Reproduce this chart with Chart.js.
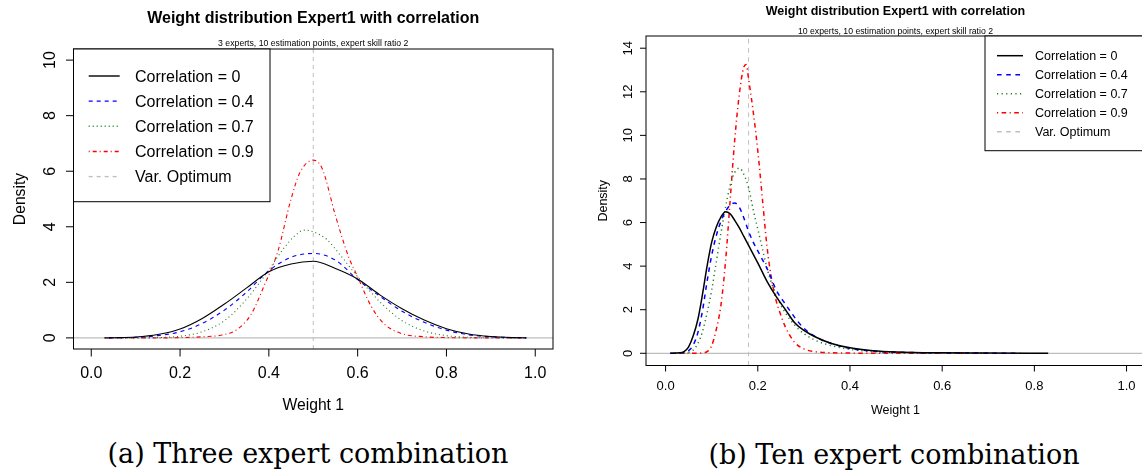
<!DOCTYPE html>
<html>
<head>
<meta charset="utf-8">
<script src="https://cdn.jsdelivr.net/npm/chart.js@4.4.1/dist/chart.umd.min.js"></script>
<style>
html, body { margin: 0; padding: 0; background: #fff; overflow: hidden; width: 1142px; height: 474px; }
canvas { position: absolute; top: 0; }
.cap { position: absolute; font-family: "DejaVu Serif", serif; font-size: 27px; line-height: 27px;
       white-space: nowrap; transform: translateX(-50%); color: #000; }
</style>
</head>
<body>
<canvas id="c3" width="580" height="430" style="left:0"></canvas>
<canvas id="c10" width="575" height="430" style="left:580px"></canvas>
<div class="cap" style="left:308px; top:440px">(a) Three expert combination</div>
<div class="cap" style="left:894px; top:441px">(b) Ten expert combination</div>
<script>
// weight 1 grid and density values

// (a) 3 experts
const w3_c0 = [0.03, 0.05, 0.1, 0.15, 0.2, 0.25, 0.3, 0.35, 0.4, 0.45, 0.5, 0.55, 0.6, 0.65, 0.7, 0.75, 0.8, 0.85, 0.9, 0.95, 0.98];
const d3_c0 = [0, 0.005, 0.03, 0.12, 0.32, 0.7, 1.22, 1.8, 2.38, 2.66, 2.76, 2.5, 2.12, 1.55, 1.05, 0.64, 0.33, 0.14, 0.05, 0.01, 0];
const w3_c4 = [0.04, 0.1, 0.15, 0.2, 0.25, 0.3, 0.35, 0.4, 0.45, 0.5, 0.55, 0.6, 0.65, 0.7, 0.75, 0.8, 0.85, 0.9, 0.95, 0.98];
const d3_c4 = [0, 0.02, 0.08, 0.22, 0.52, 1.0, 1.65, 2.42, 2.9, 3.04, 2.8, 2.1, 1.5, 0.96, 0.56, 0.28, 0.11, 0.04, 0.01, 0];
const w3_c7 = [0.04, 0.15, 0.2, 0.25, 0.3, 0.35, 0.4, 0.43, 0.46, 0.48, 0.5, 0.53, 0.56, 0.6, 0.65, 0.7, 0.75, 0.8, 0.85, 0.9, 0.98];
const d3_c7 = [0, 0.01, 0.06, 0.22, 0.62, 1.4, 2.45, 3.15, 3.7, 3.88, 3.82, 3.55, 3.0, 2.2, 1.3, 0.62, 0.25, 0.08, 0.02, 0.005, 0];
const w3_c9 = [0.03, 0.15, 0.2, 0.25, 0.3, 0.33, 0.36, 0.39, 0.42, 0.45, 0.47, 0.5, 0.52, 0.55, 0.58, 0.6, 0.63, 0.66, 0.7, 0.75, 0.8, 0.9, 0.98];
const d3_c9 = [0, 0, 0.01, 0.04, 0.12, 0.32, 0.85, 1.9, 3.1, 5.0, 5.95, 6.4, 6.1, 4.4, 2.9, 2.2, 1.15, 0.5, 0.15, 0.04, 0.01, 0, 0];

// (b) 10 experts
const w10_c0 = [0.01, 0.03, 0.04, 0.05, 0.06, 0.07, 0.08, 0.09, 0.1, 0.11, 0.12, 0.13, 0.14, 0.15, 0.16, 0.17, 0.18, 0.19, 0.2, 0.22, 0.24, 0.26, 0.28, 0.3, 0.33, 0.36, 0.4, 0.45, 0.5, 0.6, 0.7, 0.83];
const d10_c0 = [0, 0.02, 0.08, 0.3, 0.8, 1.55, 2.7, 4.0, 5.1, 5.8, 6.25, 6.5, 6.4, 6.1, 5.75, 5.35, 4.95, 4.55, 4.15, 3.3, 2.6, 2.0, 1.4, 1.05, 0.7, 0.45, 0.25, 0.12, 0.06, 0.02, 0.01, 0];
const w10_c4 = [0.01, 0.04, 0.05, 0.06, 0.07, 0.08, 0.09, 0.1, 0.11, 0.12, 0.13, 0.14, 0.15, 0.16, 0.17, 0.18, 0.19, 0.2, 0.21, 0.22, 0.24, 0.26, 0.28, 0.3, 0.33, 0.36, 0.4, 0.45, 0.5, 0.6, 0.77];
const d10_c4 = [0, 0.04, 0.12, 0.38, 0.95, 1.95, 3.3, 4.5, 5.4, 6.05, 6.5, 6.8, 6.9, 6.7, 6.2, 5.6, 5.1, 4.7, 4.3, 3.9, 2.9, 2.25, 1.65, 1.15, 0.7, 0.45, 0.22, 0.1, 0.05, 0.02, 0];
const w10_c7 = [0.02, 0.04, 0.05, 0.06, 0.07, 0.08, 0.09, 0.1, 0.11, 0.12, 0.13, 0.14, 0.15, 0.16, 0.17, 0.18, 0.19, 0.2, 0.21, 0.22, 0.24, 0.26, 0.28, 0.3, 0.33, 0.36, 0.4, 0.45, 0.5, 0.6, 0.7];
const d10_c7 = [0, 0.01, 0.05, 0.15, 0.45, 1.0, 1.85, 2.9, 4.2, 5.5, 6.7, 7.7, 8.3, 8.5, 8.2, 7.6, 6.6, 5.7, 4.8, 3.9, 2.65, 1.85, 1.3, 0.9, 0.55, 0.35, 0.18, 0.08, 0.04, 0.01, 0];
const w10_c9 = [0.02, 0.07, 0.08, 0.09, 0.1, 0.11, 0.12, 0.13, 0.14, 0.15, 0.16, 0.17, 0.175, 0.18, 0.19, 0.2, 0.21, 0.22, 0.23, 0.24, 0.25, 0.26, 0.28, 0.3, 0.33, 0.4, 0.5, 0.7];
const d10_c9 = [0, 0, 0.02, 0.08, 0.35, 1.1, 2.2, 4.2, 7.0, 9.8, 11.9, 13.15, 13.25, 12.6, 11.1, 9.3, 7.1, 4.9, 3.4, 2.4, 1.75, 1.2, 0.5, 0.2, 0.06, 0.01, 0, 0];

const seriesLabels = ['Correlation = 0', 'Correlation = 0.4', 'Correlation = 0.7', 'Correlation = 0.9'];
const optimumLabel = 'Var. Optimum';
const optimum3 = 0.5;
const optimum10 = 0.18;

const xTicks = [0, 0.2, 0.4, 0.6, 0.8, 1.0];
const xTickLabels = ['0.0', '0.2', '0.4', '0.6', '0.8', '1.0'];
const yTicks3 = [0, 2, 4, 6, 8, 10];
const yTicks10 = [0, 2, 4, 6, 8, 10, 12, 14];

const styles = [
  { color: '#000000', dash: [] },
  { color: '#0000ff', dash: [4, 4] },
  { color: '#1c7a1c', dash: [1, 3] },
  { color: '#ff0000', dash: [1, 3, 4, 3] }
];
const sans = '"Liberation Sans", Arial, sans-serif';

function makePanel(canvasId, p) {
  const ox = p.left; // page -> canvas x offset

  const rPlot = {
    id: 'rPlot',
    beforeDraw(chart) {
      const ctx = chart.ctx;
      ctx.save();
      ctx.fillStyle = '#fff';
      ctx.fillRect(0, 0, chart.width, chart.height);
      ctx.restore();
    },
    afterDraw(chart) {
      const ctx = chart.ctx, a = chart.chartArea;
      const x = chart.scales.x, y = chart.scales.y;
      ctx.save();
      ctx.strokeStyle = '#000';
      ctx.lineWidth = 1;
      ctx.setLineDash([]);
      ctx.strokeRect(a.left, a.top, a.right - a.left, a.bottom - a.top);

      // tick marks
      ctx.beginPath();
      xTicks.forEach(v => {
        const px = x.getPixelForValue(v);
        ctx.moveTo(px, a.bottom); ctx.lineTo(px, a.bottom + p.tick);
      });
      p.yTicks.forEach(v => {
        const py = y.getPixelForValue(v);
        ctx.moveTo(a.left, py); ctx.lineTo(a.left - p.tick, py);
      });
      ctx.stroke();

      ctx.fillStyle = '#000';
      ctx.textAlign = 'center';
      ctx.textBaseline = 'alphabetic';

      // tick labels
      ctx.font = p.tickSize + 'px ' + sans;
      xTicks.forEach((v, i) => {
        ctx.fillText(xTickLabels[i], x.getPixelForValue(v), p.xLabY + 0.358 * p.tickSize);
      });
      p.yTicks.forEach(v => {
        ctx.save();
        ctx.translate(p.yLabX - ox, y.getPixelForValue(v));
        ctx.rotate(-Math.PI / 2);
        ctx.fillText(String(v), 0, 0.358 * p.tickSize);
        ctx.restore();
      });

      // axis titles
      ctx.font = p.labSize + 'px ' + sans;
      const cx = (a.left + a.right) / 2;
      ctx.fillText('Weight 1', cx, p.xTitleY + 0.358 * p.labSize);
      ctx.save();
      ctx.translate(p.yTitleX - ox, (a.top + a.bottom) / 2);
      ctx.rotate(-Math.PI / 2);
      ctx.fillText('Density', 0, 0.358 * p.labSize);
      ctx.restore();

      // main title and subtitle
      ctx.font = 'bold ' + p.titleSize + 'px ' + sans;
      ctx.fillText('Weight distribution Expert1 with correlation', cx, p.titleY + 0.358 * p.titleSize);
      ctx.font = p.subSize + 'px ' + sans;
      ctx.fillText(p.sub, cx, p.subY + 0.358 * p.subSize);

      // legend box
      const L = p.legend;
      ctx.fillStyle = '#fff';
      ctx.fillRect(L.x0 - ox, L.y0, L.x1 - L.x0, L.y1 - L.y0);
      ctx.strokeStyle = '#000';
      ctx.lineWidth = 1;
      ctx.strokeRect(L.x0 - ox, L.y0, L.x1 - L.x0, L.y1 - L.y0);
      ctx.textAlign = 'left';
      ctx.font = L.size + 'px ' + sans;
      chart.data.datasets.filter(d => d.inLegend).forEach((d, i) => {
        const yy = L.rowY + i * L.step;
        ctx.strokeStyle = d.borderColor;
        ctx.lineWidth = Math.max(d.borderWidth, L.lw);
        ctx.setLineDash(d.borderDash || []);
        ctx.beginPath();
        ctx.moveTo(L.lx0 - ox, yy); ctx.lineTo(L.lx1 - ox, yy);
        ctx.stroke();
        ctx.setLineDash([]);
        ctx.fillStyle = '#000';
        ctx.fillText(d.label, L.tx - ox, yy + 0.358 * L.size);
      });
      ctx.restore();
    }
  };

  const ds = [];
  p.series.forEach((s, i) => ds.push({
    label: seriesLabels[i],
    data: s[0].map((w, k) => ({ x: w, y: s[1][k] })),
    borderColor: styles[i].color,
    borderWidth: p.lw,
    borderDash: styles[i].dash.map(v => v * p.dashScale),
    cubicInterpolationMode: 'monotone',
    inLegend: true
  }));
  ds.push({
    label: optimumLabel,
    data: [{ x: p.opt, y: p.yMin }, { x: p.opt, y: p.optTop }],
    borderColor: '#bebebe', borderWidth: 1,
    borderDash: [4 * p.dashScale, 4 * p.dashScale],
    clip: false, inLegend: true
  });
  ds.push({
    label: 'zero',
    data: [{ x: p.xMin, y: 0 }, { x: p.xMax, y: 0 }],
    borderColor: '#bebebe', borderWidth: 1.2, inLegend: false
  });

  new Chart(document.getElementById(canvasId), {
    type: 'line',
    data: { datasets: ds },
    options: {
      responsive: false,
      animation: false,
      events: [],
      layout: { padding: { left: p.padL, right: p.padR, top: p.padT, bottom: p.padB } },
      scales: {
        x: { type: 'linear', display: false, min: p.xMin, max: p.xMax },
        y: { type: 'linear', display: false, min: p.yMin, max: p.yMax }
      },
      elements: { point: { radius: 0, hoverRadius: 0 }, line: { fill: false } },
      plugins: { legend: { display: false }, tooltip: { enabled: false } }
    },
    plugins: [rPlot]
  });
}

makePanel('c3', {
  left: 0, padL: 73.5, padR: 27, padT: 49, padB: 81,
  xMin: -0.04, xMax: 1.04, yMin: -0.4, yMax: 10.4,
  yTicks: yTicks3, tick: 7.5,
  tickSize: 16, labSize: 15.7, titleSize: 16, subSize: 8.7,
  titleY: 17.5, subY: 43, xLabY: 372.5, yLabX: 49, xTitleY: 404, yTitleX: 19,
  sub: '3 experts, 10 estimation points, expert skill ratio 2',
  legend: { x0: 73.5, y0: 49, x1: 270, y1: 201.7, rowY: 76, step: 25.15, lx0: 88.7, lx1: 119.7, tx: 135, size: 16, lw: 1.4 },
  lw: 1.1, dashScale: 1,
  opt: optimum3, optTop: 10.58,
  series: [[w3_c0, d3_c0], [w3_c4, d3_c4], [w3_c7, d3_c7], [w3_c9, d3_c9]]
});

makePanel('c10', {
  left: 580, padL: 66, padR: 10, padT: 36, padB: 64.5,
  xMin: -0.0425, xMax: 1.04, yMin: -0.56, yMax: 14.56,
  yTicks: yTicks10, tick: 6,
  tickSize: 13, labSize: 12.5, titleSize: 12.5, subSize: 8.7,
  titleY: 11, subY: 31, xLabY: 385, yLabX: 627, xTitleY: 410, yTitleX: 603,
  sub: '10 experts, 10 estimation points, expert skill ratio 2',
  legend: { x0: 985, y0: 36, x1: 1145, y1: 150.7, rowY: 55.7, step: 19, lx0: 997, lx1: 1023, tx: 1035, size: 12.5, lw: 1.5 },
  lw: 1.5, dashScale: 1.15,
  opt: optimum10, optTop: 14.47,
  series: [[w10_c0, d10_c0], [w10_c4, d10_c4], [w10_c7, d10_c7], [w10_c9, d10_c9]]
});
</script>
</body>
</html>
